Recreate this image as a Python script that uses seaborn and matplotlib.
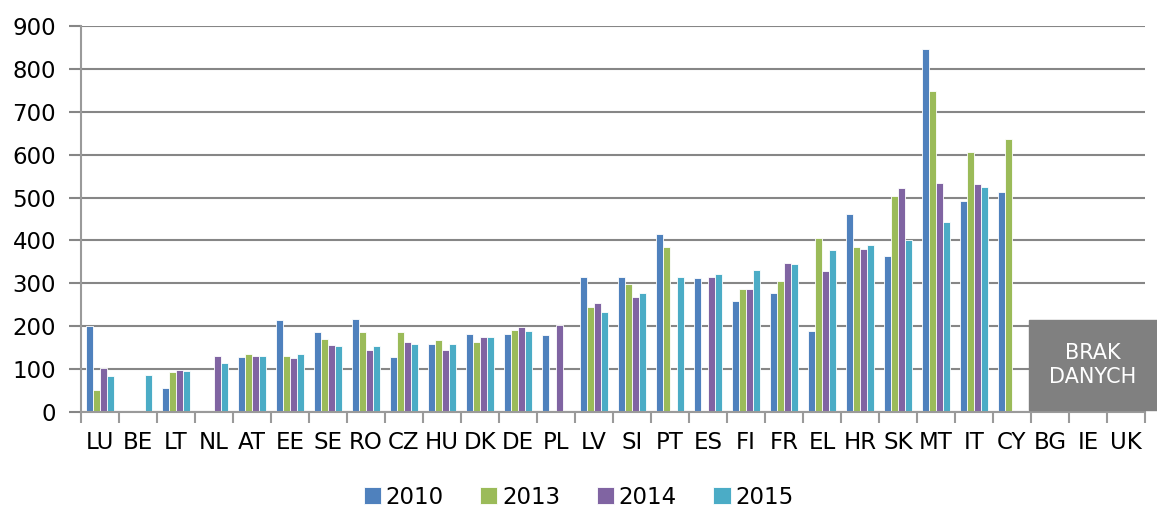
import numpy as np
import pandas as pd
import matplotlib
matplotlib.use("Agg")
import matplotlib.pyplot as plt
import seaborn as sns
from matplotlib.patches import Rectangle

countries = ["LU", "BE", "LT", "NL", "AT", "EE", "SE", "RO", "CZ", "HU", "DK", "DE", "PL",
             "LV", "SI", "PT", "ES", "FI", "FR", "EL", "HR", "SK", "MT", "IT", "CY", "BG", "IE", "UK"]
nan = np.nan
v2010 = [200, nan, 55, nan, 128, 214, 187, 216, 128, 159, 182, 183, 180,
         314, 314, 416, 313, 258, 278, 190, 461, 363, 847, 493, 513, nan, nan, nan]
v2013 = [52, nan, 93, nan, 135, 130, 171, 187, 187, 169, 163, 191, nan,
         245, 299, 385, nan, 287, 306, 406, 384, 504, 749, 606, 637, nan, nan, nan]
v2014 = [102, nan, 98, 131, 130, 125, 157, 145, 163, 144, 176, 199, 203,
         255, 269, nan, 316, 288, 347, 329, 379, 523, 535, 532, nan, nan, nan, nan]
v2015 = [85, 86, 95, 114, 130, 135, 153, 154, 158, 159, 174, 190, nan,
         233, 277, 314, 323, 331, 345, 377, 389, 401, 444, 525, nan, nan, nan, nan]
years = ["2010", "2013", "2014", "2015"]
colors = ["#4F81BD", "#9BBB59", "#8064A2", "#4BACC6"]
ylabels = ["0", "100", "200", "300", "400", "500", "600", "700", "800", "900"]
no_data_label = "BRAK\nDANYCH"

rows = []
for yr, vals in zip(years, [v2010, v2013, v2014, v2015]):
    for c, v in zip(countries, vals):
        rows.append({"country": c, "year": yr, "value": v})
df = pd.DataFrame(rows)

sns.set_style("white")
plt.rcParams['font.family'] = ['DejaVu Sans']
plt.rcParams['text.color'] = 'black'

fig = plt.figure(figsize=(11.57, 5.11), dpi=100)
ax = fig.add_axes([0.070, 0.1937, 0.9896 - 0.070, 0.949 - 0.1937])

sns.barplot(data=df, x="country", y="value", hue="year", order=countries,
            hue_order=years, palette=colors, width=0.74, ax=ax,
            edgecolor="white", linewidth=0.6, saturation=1, legend=True)

ax.set_ylim(0, 900)
ax.set_xlim(-0.5, len(countries) - 0.5)
ax.set_yticks(np.arange(0, 901, 100))
ax.set_yticklabels(ylabels, fontsize=16.5, color="black")
ax.yaxis.grid(True, color="#868686", linewidth=1.5)
ax.set_axisbelow(True)
ax.set_xlabel("")
ax.set_ylabel("")

for s in ["top", "right"]:
    ax.spines[s].set_visible(False)
for s in ["left", "bottom"]:
    ax.spines[s].set_color("#9a9a9a")
    ax.spines[s].set_linewidth(1.5)

ax.tick_params(axis="y", length=9, width=1.5, color="#868686", pad=9, left=True)
ax.set_xticks(np.arange(len(countries)))
ax.set_xticklabels(countries, fontsize=16.5, color="black")
ax.set_xticks(np.arange(-0.5, len(countries)), minor=True)
ax.tick_params(axis="x", which="major", length=0, pad=14)
ax.tick_params(axis="x", which="minor", length=8, width=1.5, color="#9a9a9a", bottom=True)

handles, labels = ax.get_legend_handles_labels()
ax.get_legend().remove()
fig.legend(handles, labels, loc="center", bbox_to_anchor=(0.5, 1 - 497 / 511), ncol=4,
           frameon=False, fontsize=16.5, handlelength=0.75, handleheight=0.75,
           handletextpad=0.2, columnspacing=1.6)

fig.patches.append(Rectangle((1029 / 1157, 1 - 410 / 511), (1157 - 1029) / 1157, 90 / 511,
                             transform=fig.transFigure, color="#808080", zorder=5))
fig.text(1093 / 1157, 1 - 365 / 511, no_data_label, ha="center", va="center",
         color="white", fontsize=15, linespacing=1.25, zorder=6)

fig.savefig("out.png", dpi=100)
